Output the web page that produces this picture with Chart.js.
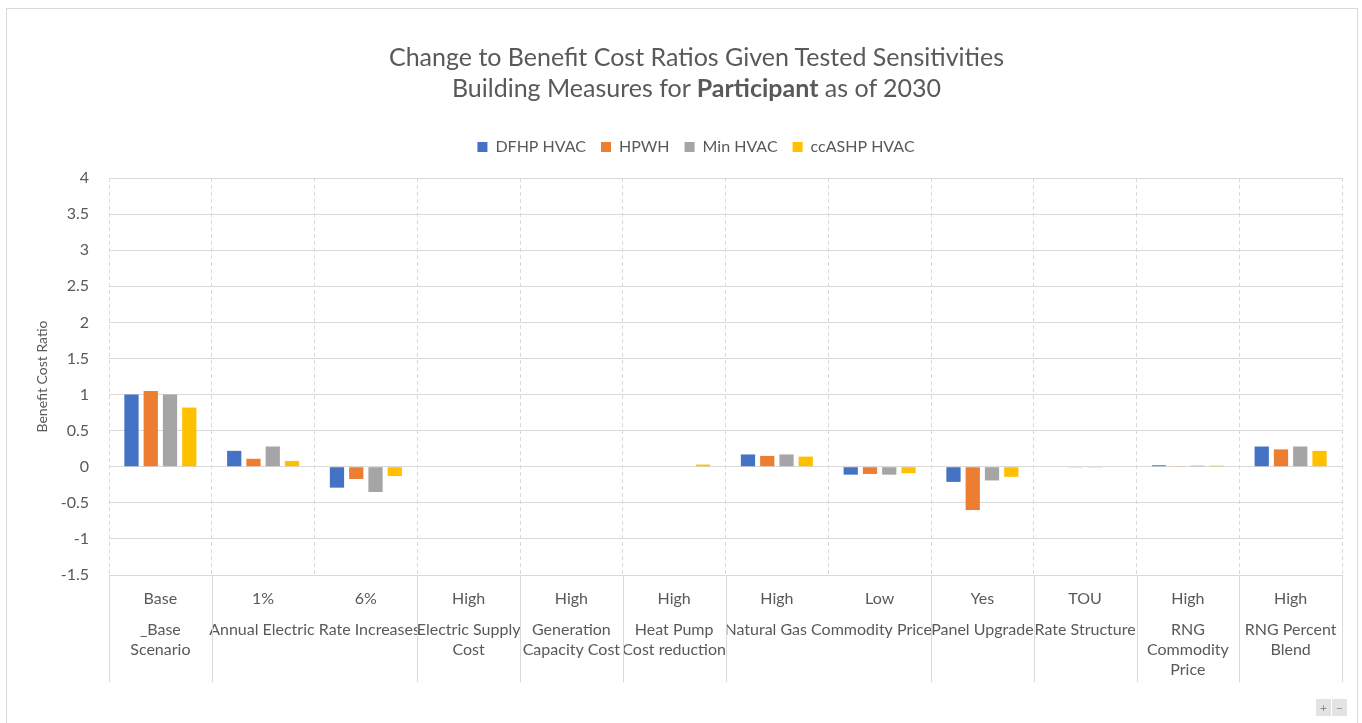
<!DOCTYPE html>
<html>
<head>
<meta charset="utf-8">
<script src="https://cdn.jsdelivr.net/npm/chart.js@4.4.1/dist/chart.umd.min.js"></script>
<style>
  body { margin: 0; background: #fff; font-family: Lato, sans-serif; }
  #frame { position: absolute; left: 6px; top: 8px; width: 1350px; height: 730px; border: 1px solid #d9d9d9; }
  #wrap { position: absolute; left: 0; top: 0; width: 1362px; height: 723px; }
  #title { position: absolute; left: 0; top: 41px; width: 1393px; text-align: center;
           font-size: 25px; line-height: 31px; color: #595959; }
  #zoomer { position: absolute; left: 1316px; top: 699px; font-size: 12px; color: #8a8a8a; }
  #zoomer span { display: inline-block; width: 15px; height: 17px; line-height: 17px; text-align: center; background: #e3e3e3; margin-right: 1px; }
</style>
</head>
<body>
<div id="frame"></div>
<div id="wrap"><canvas id="chart" width="1362" height="723"></canvas></div>
<div id="title">Change to Benefit Cost Ratios Given Tested Sensitivities<br>Building Measures for <b>Participant</b> as of 2030</div>
<div id="zoomer"><span>+</span><span>&minus;</span></div>
<script>
// values
var categories = ['Base', '1%', '6%', 'High', 'High', 'High', 'High', 'Low', 'Yes', 'TOU', 'High', 'High'];

var dfhpHvac   = [1.00, 0.22, -0.29, 0, 0, 0,    0.17, -0.11, -0.21, 0,     0.02,  0.28];
var hpwh       = [1.05, 0.11, -0.17, 0, 0, 0,    0.15, -0.10, -0.60, -0.01, 0.005, 0.24];
var minHvac    = [1.00, 0.28, -0.35, 0, 0, 0,    0.17, -0.11, -0.19, -0.01, 0.015, 0.28];
var ccashpHvac = [0.82, 0.08, -0.13, 0, 0, 0.03, 0.14, -0.09, -0.14, 0,     0.015, 0.22];

// second row: group name and the categories it covers
var groupLabels = [['_Base', 'Scenario'], 'Annual Electric Rate Increases', ['Electric Supply', 'Cost'],
  ['Generation', 'Capacity Cost'], ['Heat Pump', 'Cost reduction'], 'Natural Gas Commodity Price',
  'Panel Upgrade', 'Rate Structure', ['RNG', 'Commodity', 'Price'], ['RNG Percent', 'Blend']];
var groupFirst = [0, 1, 3, 4, 5, 6, 8, 9, 10, 11];
var groupLast  = [0, 2, 3, 4, 5, 7, 8, 9, 10, 11];

var yTicks = [4, 3.5, 3, 2.5, 2, 1.5, 1, 0.5, 0, -0.5, -1, -1.5];

var textColor = '#595959';
var gridColor = '#d9d9d9';

// the legend sits a bit right of the canvas centre and leaves room below it
var legendNudge = {
  id: 'legendNudge',
  beforeInit: function(chart) {
    var fit = chart.legend.fit;
    chart.legend.fit = function() {
      fit.bind(chart.legend)();
      this.height += 13;
    };
  },
  afterLayout: function(chart) {
    chart.legend.left += 12;
    chart.legend.right += 12;
  }
};

// solid group separators under the plot, like excel's multi-level axis
var groupLines = {
  id: 'groupLines',
  afterDraw: function(chart) {
    var xs = chart.scales.groups;
    var ctx = chart.ctx;
    var bounds = [groupFirst[0] - 0.5];
    for (var i = 0; i < groupLast.length; i++) bounds.push(groupLast[i] + 0.5);
    ctx.save();
    ctx.strokeStyle = gridColor;
    ctx.lineWidth = 1;
    for (var j = 0; j < bounds.length; j++) {
      var x = Math.round(xs.getPixelForValue(bounds[j])) + 0.5;
      ctx.beginPath();
      ctx.moveTo(x, chart.chartArea.bottom);
      ctx.lineTo(x, 682);
      ctx.stroke();
    }
    ctx.restore();
  }
};

var groupCenters = [];
for (var g = 0; g < groupFirst.length; g++) groupCenters.push((groupFirst[g] + groupLast[g]) / 2);

new Chart(document.getElementById('chart').getContext('2d'), {
  type: 'bar',
  data: {
    labels: categories,
    datasets: [
      { label: 'DFHP HVAC', data: dfhpHvac, backgroundColor: '#4472C4' },
      { label: 'HPWH', data: hpwh, backgroundColor: '#ED7D31' },
      { label: 'Min HVAC', data: minHvac, backgroundColor: '#A5A5A5' },
      { label: 'ccASHP HVAC', data: ccashpHvac, backgroundColor: '#FFC000' }
    ]
  },
  options: {
    responsive: false,
    animation: false,
    datasets: { bar: { categoryPercentage: 0.75, barPercentage: 0.74 } },
    layout: { padding: { left: 26, right: 20, top: 124, bottom: 36 } },
    plugins: {
      title: { display: false },
      tooltip: { enabled: false },
      legend: {
        position: 'top',
        labels: { boxWidth: 10, boxHeight: 10, padding: 15, color: textColor, font: { family: 'Lato', size: 16 } }
      }
    },
    scales: {
      x: {
        type: 'category',
        position: 'bottom',
        grid: { offset: true, color: gridColor, drawTicks: false },
        border: { display: false, dash: [4, 3] },
        ticks: { color: textColor, padding: 14, autoSkip: false, maxRotation: 0, font: { family: 'Lato', size: 16 } },
        afterFit: function(s) { s.height = 32; }
      },
      groups: {
        type: 'linear',
        position: 'bottom',
        offset: false,
        min: -0.5,
        max: categories.length - 0.5,
        grid: { display: false, offset: false },
        border: { display: false },
        afterBuildTicks: function(s) {
          s.ticks = groupCenters.map(function(v) { return { value: v }; });
        },
        ticks: {
          color: textColor, padding: 5, autoSkip: false, maxRotation: 0,
          font: { family: 'Lato', size: 16, lineHeight: 1.25 },
          callback: function(v, i) { return groupLabels[i]; }
        },
        afterFit: function(s) { s.height = 80; }
      },
      y: {
        min: -1.5,
        max: 4,
        grid: { color: gridColor, drawTicks: false },
        border: { display: false },
        afterBuildTicks: function(s) {
          s.ticks = yTicks.map(function(v) { return { value: v }; });
        },
        ticks: {
          color: textColor, padding: 20, font: { family: 'Lato', size: 16 },
          callback: function(v) { return String(v); }
        },
        title: { display: true, text: 'Benefit Cost Ratio', color: textColor, padding: 8, font: { family: 'Lato', size: 14 } },
        afterFit: function(s) { s.width = 83; }
      }
    }
  },
  plugins: [legendNudge, groupLines]
});
</script>
</body>
</html>
